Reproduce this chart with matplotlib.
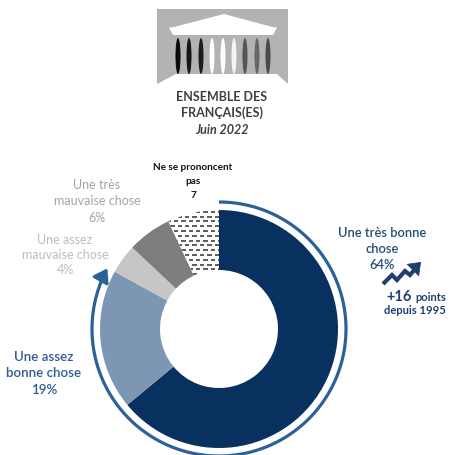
import numpy as np
import matplotlib
matplotlib.use("Agg")
import matplotlib.pyplot as plt
from matplotlib.patches import Polygon, Ellipse, FancyArrowPatch
from matplotlib.collections import LineCollection

plt.rcParams['font.family'] = ['Lato', 'DejaVu Sans']

# ---- data ----
categories = ["Une très bonne chose", "Une assez bonne chose",
              "Une assez mauvaise chose", "Une très mauvaise chose",
              "Ne se prononcent pas"]
values = [64, 19, 4, 6, 7]
colors = ["#08315f", "#7d96b3", "#c6c6c6", "#7d7d7d", "#ffffff"]
title_lines = ["ENSEMBLE DES", "FRANÇAIS(ES)"]
subtitle = "Juin 2022"
trend_value = "+16"
trend_text = "points"
trend_since = "depuis 1995"

W, H = 451, 455
fig = plt.figure(figsize=(W / 100, H / 100), dpi=100)
ax = fig.add_axes([0, 0, 1, 1])

def Y(y):
    return H - y

cx, cy, R, RW = 219, Y(329), 119, 60

wedges, _ = ax.pie(values, colors=colors, startangle=90, counterclock=False,
                   center=(cx, cy), radius=R,
                   wedgeprops=dict(width=RW, linewidth=0))

# dashed pattern for "Ne se prononcent pas"
pat = wedges[4]
segs = []
for i, yy in enumerate(np.arange(cy + 2, cy + R + 5, 4.8)):
    off = 0 if i % 2 == 0 else 3.7
    for xx in np.arange(cx - 80 + off, cx + 5, 7.4):
        segs.append([(xx - 2.2, yy), (xx + 2.2, yy)])
lc = LineCollection(segs, colors="#303030", linewidths=1.1, capstyle='butt', zorder=3)
ax.add_collection(lc)
lc.set_clip_path(pat)

# arc arrow around the "bonne chose" part
arc_col = "#2c6198"
RA = 127
end_ang = 90 - (values[0] + values[1]) / sum(values) * 360
th = np.radians(np.linspace(90, end_ang + 6, 300))
ax.plot(cx + RA * np.cos(th), cy + RA * np.sin(th), color=arc_col, lw=2.3,
        solid_capstyle='butt', zorder=4)
a0, a1 = np.radians(end_ang + 8), np.radians(end_ang - 1)
ax.add_patch(FancyArrowPatch((cx + RA * np.cos(a0), cy + RA * np.sin(a0)),
                             (cx + RA * np.cos(a1), cy + RA * np.sin(a1)),
                             arrowstyle='-|>,head_length=6,head_width=4',
                             connectionstyle='arc3,rad=-0.05',
                             color=arc_col, lw=2.3, mutation_scale=1.3, zorder=5))

# ---- building icon ----
grey = "#b3b3b3"
ax.add_patch(Polygon([(157, Y(9)), (288, Y(9)), (288, Y(84)), (277, Y(74)),
                      (176, Y(74)), (157, Y(84))], closed=True, fc=grey, ec='none'))
ax.add_patch(Polygon([(170, Y(28)), (224, Y(14)), (276, Y(28))], closed=True,
                     fc='white', ec='none'))
ax.add_patch(Polygon([(169, Y(27.5)), (277, Y(27.5)), (273, Y(35)), (173, Y(35))],
                     closed=True, fc='white', ec='none'))
col_x = [178, 189, 201, 212, 223, 234, 245, 257, 268]
col_c = ["#0a0a0a", "#151515", "#1c1c1c", "#ffffff", "#ffffff", "#f4f4f4",
         "#555555", "#666666", "#4a4a4a"]
for x, c in zip(col_x, col_c):
    ax.add_patch(Ellipse((x, Y(56)), 5, 36, fc=c, ec='none'))

tc = "#404040"
ax.text(222, Y(97), title_lines[0], ha='center', va='center', fontsize=9,
        fontweight='bold', color=tc)
ax.text(222, Y(113), title_lines[1], ha='center', va='center', fontsize=9,
        fontweight='bold', color=tc)
ax.text(222, Y(130), subtitle, ha='center', va='center', fontsize=9,
        fontweight='bold', style='italic', color=tc)

# ---- labels ----
def lab(x, ys_, lines, color, size=9.2, weight='normal'):
    for yy, t in zip(ys_, lines):
        ax.text(x, Y(yy), t, ha='center', va='center', fontsize=size,
                color=color, fontweight=weight)

lab(193, [167, 181, 195], ["Ne se prononcent", "pas", f"{values[4]}"],
    "#111111", size=7.2, weight='bold')
lab(97, [185, 201, 218], ["Une très", "mauvaise chose", f"{values[3]}%"],
    "#a3a3a3", size=9)
lab(65, [240, 255, 270], ["Une assez", "mauvaise chose", f"{values[2]}%"],
    "#bdbdbd", size=9)
lab(382, [233, 249, 265], ["Une très bonne", "chose", f"{values[0]}%"],
    "#1f4e79", size=9.3, weight='semibold')
lab(44, [357, 373, 390], ["Une assez", "bonne chose", f"{values[1]}%"],
    "#2c5d92", size=9.6, weight='semibold')

# trend
navy = "#1f3f6e"
zz_x = [383, 392, 397, 405, 410, 416]
zz_y = [284, 275, 280, 271, 275, 268]
ax.plot(zz_x, [Y(v) for v in zz_y], color=navy, lw=3.0, solid_joinstyle='miter',
        solid_capstyle='butt')
ax.add_patch(FancyArrowPatch((412, Y(271)), (423, Y(260)),
                             arrowstyle='-|>,head_length=6,head_width=4.5',
                             color=navy, lw=0.5, mutation_scale=1.3))
ax.text(412, Y(297), trend_value, ha='right', va='center', fontsize=10.5,
        fontweight='bold', color=navy)
ax.text(415, Y(297.5), trend_text, ha='left', va='center', fontsize=8,
        fontweight='bold', color=navy)
ax.text(415, Y(311), trend_since, ha='center', va='center', fontsize=8,
        fontweight='bold', color=navy)

ax.set_xlim(0, W)
ax.set_ylim(0, H)
ax.set_aspect('auto')
ax.axis('off')
fig.savefig("out.png", dpi=100, facecolor='white')
